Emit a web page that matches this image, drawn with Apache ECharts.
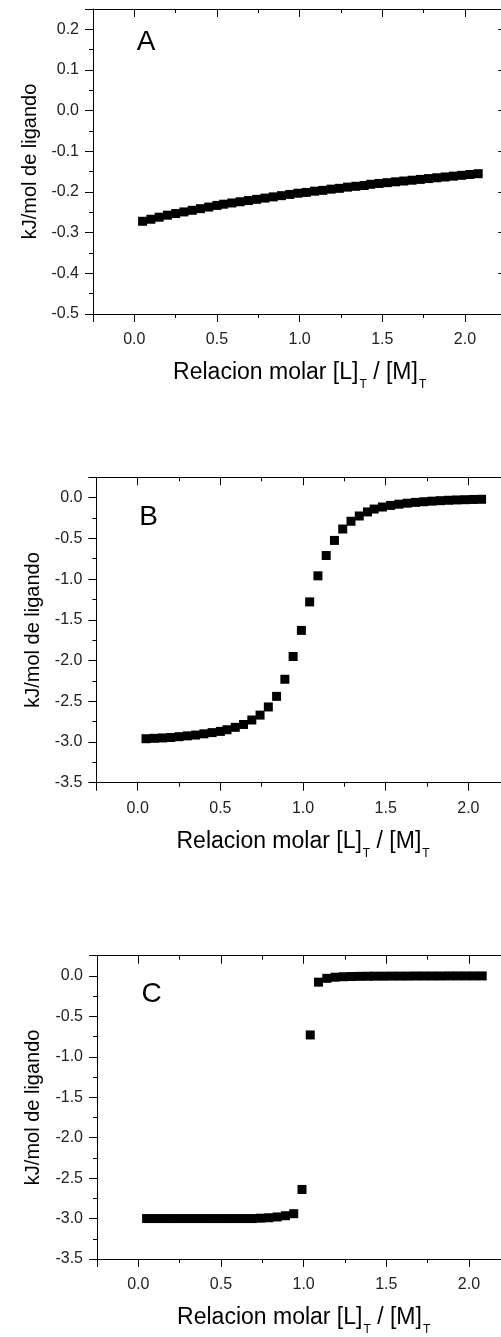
<!DOCTYPE html>
<html>
<head>
<meta charset="utf-8">
<title>Relacion molar</title>
<script src="https://cdn.jsdelivr.net/npm/echarts@6/dist/echarts.min.js"></script>
<style>
  html, body { margin: 0; padding: 0; background: #fff; overflow: hidden; }
  #container { width: 520px; height: 1337px; }
</style>
</head>
<body>
<div id="container"></div>
<script>
// razon molar de cada inyeccion (comun a los tres paneles)
var ratio = [0.05, 0.10, 0.15, 0.20, 0.25, 0.30, 0.35, 0.40, 0.45, 0.50,
             0.54, 0.59, 0.64, 0.69, 0.74, 0.79, 0.84, 0.89, 0.94, 0.99,
             1.04, 1.09, 1.14, 1.19, 1.24, 1.29, 1.34, 1.39,
             1.43, 1.48, 1.53, 1.58, 1.63, 1.68, 1.73, 1.78, 1.83, 1.88, 1.93, 1.98, 2.03, 2.08];

// kJ/mol de ligando, panel A
var heatA = [-0.272, -0.267, -0.262, -0.257, -0.253, -0.249, -0.245, -0.241, -0.237, -0.233,
             -0.230, -0.227, -0.224, -0.221, -0.218, -0.215, -0.212, -0.209, -0.206, -0.203,
             -0.201, -0.198, -0.196, -0.193, -0.191, -0.188, -0.186, -0.184,
             -0.181, -0.179, -0.177, -0.175, -0.173, -0.171, -0.169, -0.167, -0.165, -0.163, -0.161, -0.159, -0.157, -0.155];

// panel B
var heatB = [-2.960, -2.955, -2.950, -2.945, -2.935, -2.925, -2.915, -2.900, -2.885, -2.870,
             -2.850, -2.820, -2.785, -2.730, -2.670, -2.570, -2.440, -2.230, -1.950, -1.630,
             -1.280, -0.960, -0.710, -0.525, -0.385, -0.290, -0.225, -0.175,
             -0.140, -0.115, -0.095, -0.080, -0.068, -0.058, -0.050, -0.043, -0.037, -0.032, -0.028, -0.025, -0.022, -0.020];

// panel C
var heatC = [-3.000, -3.000, -3.000, -3.000, -3.000, -3.000, -3.000, -3.000, -3.000, -3.000,
             -3.000, -3.000, -3.000, -3.000, -2.995, -2.990, -2.980, -2.965, -2.940, -2.640,
             -0.730, -0.077, -0.030, -0.016, -0.010, -0.007, -0.005, -0.004,
             -0.003, -0.003, -0.002, -0.002, -0.002, -0.001, -0.001, -0.001, -0.001, 0.000, 0.000, 0.000, 0.000, 0.000];

var xLabels = [0, 0.5, 1.0, 1.5, 2.0];
var letters = ['A', 'B', 'C'];
var xTitle = 'Relacion molar [L]{s|T} / [M]{s|T}';
var yTitle = 'kJ/mol de ligando';

// ---- layout ----
var FONT = '"Liberation Sans", Arial, sans-serif';
var panels = [
  { grid: { left: 93,   top: 9,     width: 413.3, height: 305   }, y: [-0.5, 0.25, 0.1], letter: [146, 42.5],   data: heatA },
  { grid: { left: 96.4, top: 477.3, width: 413.3, height: 305.4 }, y: [-3.5, 0.25, 0.5], letter: [148.5, 517.5], data: heatB },
  { grid: { left: 97,   top: 955.7, width: 413.3, height: 305.3 }, y: [-3.5, 0.25, 0.5], letter: [151.7, 994],  data: heatC }
];

function fmt(v) {
  if (Math.abs(v) < 1e-9) return '0.0';
  return v.toFixed(1);
}
function ls() { return { color: '#000', width: 1 }; }

// eje que solo dibuja marcas (sin linea ni etiquetas)
function tickAxis(i, pos, min, max, interval, len, inside) {
  var ax = {
    gridIndex: i, type: 'value', position: pos, min: min, max: max,
    axisLine: { show: false, onZero: false },
    axisTick: { show: true, inside: inside, length: len, lineStyle: ls() },
    axisLabel: { show: false }, splitLine: { show: false }
  };
  if (interval) ax.interval = interval; else ax.splitNumber = 5;
  return ax;
}

var grids = [], xAxes = [], yAxes = [], series = [], graphic = [];

panels.forEach(function (p, i) {
  grids.push(p.grid);

  // abajo: linea, etiquetas y titulo
  xAxes.push({
    gridIndex: i, type: 'value', position: 'bottom', min: -0.25, max: 2.25,
    axisLine: { show: true, onZero: false, lineStyle: ls() },
    axisTick: { show: false },
    axisLabel: { customValues: xLabels, formatter: fmt, margin: 18, fontSize: 16, color: '#222', fontFamily: FONT },
    splitLine: { show: false },
    name: xTitle, nameLocation: 'middle', nameGap: 45,
    nameTextStyle: {
      fontSize: 23, color: '#000', fontFamily: FONT, lineHeight: 28,
      rich: { s: { fontSize: 12, fontFamily: FONT, color: '#000', lineHeight: 12, verticalAlign: 'top', padding: [20, 0, 0, 1] } }
    }
  });
  xAxes.push(tickAxis(i, 'bottom', -0.25, 2.25, null, 8, false));
  xAxes.push(tickAxis(i, 'bottom', -0.25, 2.25, 0.25, 4, false));
  // arriba: linea y marcas hacia dentro
  xAxes.push({
    gridIndex: i, type: 'value', position: 'top', min: -0.25, max: 2.25,
    axisLine: { show: true, onZero: false, lineStyle: ls() },
    axisTick: { show: false }, axisLabel: { show: false }, splitLine: { show: false }
  });
  xAxes.push(tickAxis(i, 'top', -0.25, 2.25, null, 8, true));
  xAxes.push(tickAxis(i, 'top', -0.25, 2.25, 0.25, 4, true));

  // izquierda: linea, etiquetas y titulo
  yAxes.push({
    gridIndex: i, type: 'value', position: 'left', min: p.y[0], max: p.y[1], interval: p.y[2],
    axisLine: { show: true, onZero: false, lineStyle: ls() },
    axisTick: { show: false },
    axisLabel: { formatter: fmt, showMaxLabel: false, margin: 14, fontSize: 16, color: '#222', fontFamily: FONT },
    splitLine: { show: false },
    name: yTitle, nameLocation: 'middle', nameGap: 50 + (p.grid.left - 93),
    nameTextStyle: { fontSize: 20, color: '#000', fontFamily: FONT }
  });
  yAxes.push(tickAxis(i, 'left', p.y[0], p.y[1], p.y[2], 8, false));
  yAxes.push(tickAxis(i, 'left', p.y[0], p.y[1], p.y[2] / 2, 4, false));
  // derecha
  yAxes.push({
    gridIndex: i, type: 'value', position: 'right', min: p.y[0], max: p.y[1], interval: p.y[2],
    axisLine: { show: true, onZero: false, lineStyle: ls() },
    axisTick: { show: true, inside: true, length: 8, lineStyle: ls() },
    axisLabel: { show: false }, splitLine: { show: false }
  });

  series.push({
    type: 'scatter', xAxisIndex: i * 6, yAxisIndex: i * 4,
    symbol: 'rect', symbolSize: 9,
    itemStyle: { color: '#000', opacity: 1 },
    data: ratio.map(function (x, k) { return [x, p.data[k]]; }),
    silent: true
  });

  graphic.push({
    type: 'text', x: p.letter[0], y: p.letter[1],
    style: { text: letters[i], fontSize: 28, fontFamily: FONT, fill: '#000', align: 'center', verticalAlign: 'middle' }
  });
});

var chart = echarts.init(document.getElementById('container'), null, { renderer: 'canvas' });
chart.setOption({
  animation: false,
  backgroundColor: '#fff',
  grid: grids,
  xAxis: xAxes,
  yAxis: yAxes,
  series: series,
  graphic: graphic
});
</script>
</body>
</html>
